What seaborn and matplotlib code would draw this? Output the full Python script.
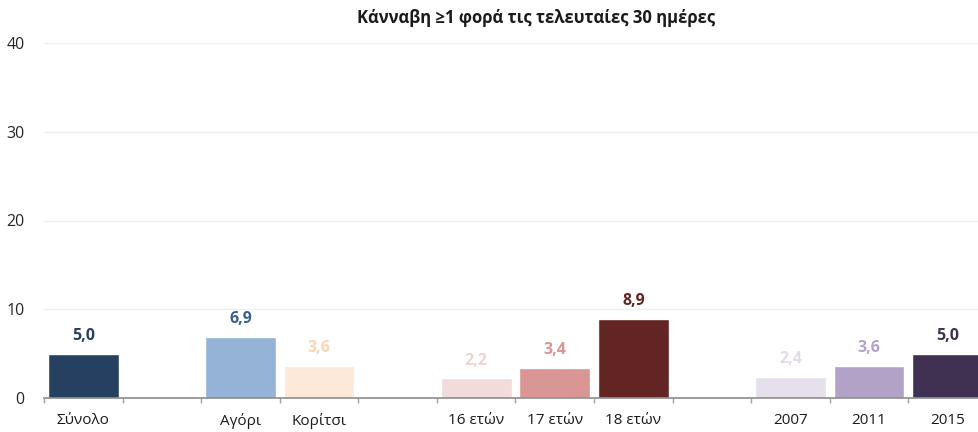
"""
Cannabis use in the last 30 days - bar chart by group.
"""
import matplotlib
matplotlib.use('Agg')
import matplotlib.pyplot as plt
import seaborn as sns
import pandas as pd

# Data
slots = ["Σύνολο", " ", "Αγόρι", "Κορίτσι", "  ", "16 ετών", "17 ετών", "18 ετών",
         "   ", "2007", "2011", "2015"]
labels = ["Σύνολο", "Αγόρι", "Κορίτσι", "16 ετών", "17 ετών", "18 ετών", "2007", "2011", "2015"]
values = [5.0, 6.9, 3.6, 2.2, 3.4, 8.9, 2.4, 3.6, 5.0]
colors = ["#264061", "#95B3D7", "#FDE9D9", "#F2DCDB", "#D99694", "#632523",
          "#E5E0EC", "#B3A2C7", "#403152"]
label_colors = ["#264061", "#376092", "#FCD5B5", "#F0D4D3", "#D99694", "#632523",
                "#E2DCEA", "#B3A2C7", "#403152"]
yticks = [0, 10, 20, 30, 40]
title = "Κάνναβη ≥1 φορά τις τελευταίες 30 ημέρες"

df = pd.DataFrame({"label": labels, "value": values})
palette = dict(zip(labels, colors))

sns.set_style("white")
plt.rcParams['font.family'] = ['Open Sans', 'DejaVu Sans']

W, H = 979, 432
fig = plt.figure(figsize=(W / 100, H / 100), dpi=100)
ax = fig.add_axes([44 / W, 34 / H, 943 / W, 355 / H])

sns.barplot(data=df, x="label", y="value", hue="label", order=slots,
            palette=palette, width=0.9, legend=False, ax=ax, saturation=1)

ax.set_xlim(-0.5, len(slots) - 0.5)
ax.set_ylim(0, 40)
ax.set_yticks(yticks)
ax.set_yticklabels([str(t) for t in yticks], fontsize=11.5, color="#262626")
ax.grid(axis="y", color="#EFEFEF", linewidth=1)
ax.set_axisbelow(True)

ax.set_xticks(range(len(slots)))
ax.set_xticklabels(slots, fontsize=11, color="#1a1a1a")
ax.set_xticks([i - 0.5 for i in range(len(slots))], minor=True)
ax.tick_params(axis="x", which="major", bottom=False, length=0, pad=11)
ax.tick_params(axis="x", which="minor", bottom=True, length=3.5, color="#A0A0A0",
               width=1, direction="out")
ax.tick_params(axis="y", length=0, pad=14)
ax.set_xlabel("")
ax.set_ylabel("")

for s in ["top", "right", "left"]:
    ax.spines[s].set_visible(False)
ax.spines["bottom"].set_color("#8C8C8C")
ax.spines["bottom"].set_linewidth(1.2)

# value labels
for lab, val, col in zip(labels, values, label_colors):
    x = slots.index(lab)
    ax.annotate(f"{val:.1f}".replace(".", ","), (x, val), xytext=(0, 7),
                textcoords="offset points", ha="center", va="bottom",
                fontsize=11.5, fontweight="bold", color=col)

fig.text(536 / W, 1 - 18 / H, title, ha="center", va="center",
         fontsize=12, fontweight="bold", color="#1a1a1a")

plt.savefig("out.png", dpi=100)
plt.close()
